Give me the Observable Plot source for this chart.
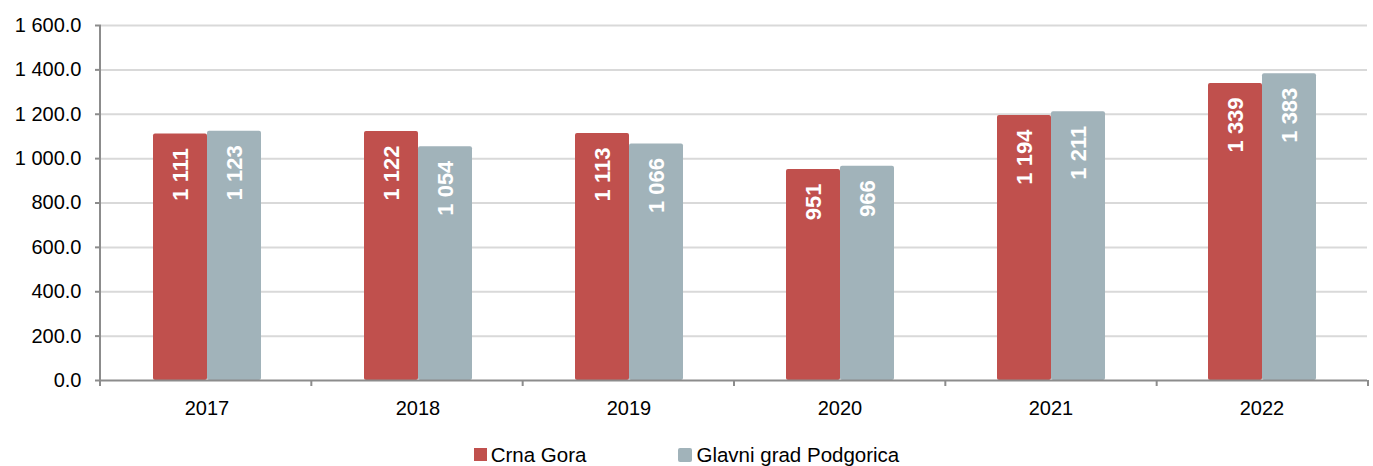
<!DOCTYPE html>
<html>
<head>
<meta charset="utf-8">
<script src="https://cdn.jsdelivr.net/npm/d3@7"></script>
<script src="https://cdn.jsdelivr.net/npm/@observablehq/plot@0.6"></script>
<style>
  html, body { margin: 0; padding: 0; background: #fff; }
  body { width: 1373px; height: 466px; overflow: hidden; font-family: "Liberation Sans", Arial, sans-serif; }
  #legend { display: flex; justify-content: center; align-items: center; height: 36px; padding-top: 13px; box-sizing: border-box; font-size: 20.5px; color: #000; }
  .item { display: flex; align-items: center; }
  .sw { display: inline-block; width: 13px; height: 13px; margin-right: 4px; }
</style>
</head>
<body>
<div id="chart"></div>
<div id="legend"></div>
<script>
const years = ["2017", "2018", "2019", "2020", "2021", "2022"];
const series = ["Crna Gora", "Glavni grad Podgorica"];
const crnaGora = [1111, 1122, 1113, 951, 1194, 1339];
const podgorica = [1123, 1054, 1066, 966, 1211, 1383];
const yTicks = [0, 200, 400, 600, 800, 1000, 1200, 1400, 1600];
const colors = ["#c0504d", "#a1b3ba"];

const locale = d3.formatLocale({decimal: ".", thousands: "\u00a0", grouping: [3], currency: ["", ""]});
const fmtTick = locale.format(",.1f");
const fmtVal = locale.format(",d");

const data = [];
years.forEach((y, i) => {
  data.push({year: y, series: series[0], value: crnaGora[i]});
  data.push({year: y, series: series[1], value: podgorica[i]});
});

const W = 1373, H = 430, ML = 100, MR = 5, MT = 25, MB = 50;

const chart = Plot.plot({
  width: W,
  height: H,
  marginLeft: ML,
  marginRight: MR,
  marginTop: MT,
  marginBottom: MB,
  style: {fontFamily: "Liberation Sans, Arial, sans-serif", fontSize: "20px", color: "#000", background: "#fff"},
  fx: {domain: years, padding: 0, axis: "bottom", tickSize: 0, tickPadding: 20, label: null},
  x: {domain: series, paddingInner: 0, paddingOuter: 0.92, axis: null},
  y: {domain: [0, 1600], ticks: yTicks, tickFormat: fmtTick, tickSize: 6, tickPadding: 14, label: null},
  color: {domain: series, range: colors},
  marks: [
    Plot.gridY(yTicks.filter(d => d > 0), {stroke: "#d9d9d9", strokeOpacity: 1, strokeWidth: 2}),
    Plot.barY(data, {fx: "year", x: "series", y: "value", fill: "series", rx: 2}),
    Plot.ruleY([0], {stroke: "#8c8c8c", strokeWidth: 2}),
    Plot.text(data, {
      fx: "year", x: "series", y: "value", text: d => fmtVal(d.value),
      rotate: -90, textAnchor: "end", lineAnchor: "middle", dy: 14,
      fill: "#fff", fontWeight: "bold", fontSize: 22
    })
  ]
});

const svg = d3.select(chart);
svg.selectAll("[aria-label='y-axis tick'] path, [aria-label='y-axis tick'] line").attr("stroke", "#8c8c8c").attr("stroke-width", 2);
const g = svg.append("g").attr("stroke", "#8c8c8c").attr("stroke-width", 2);
const x0 = ML, x1 = W - MR, step = (x1 - x0) / years.length, yb = H - MB;
g.append("line").attr("x1", x0).attr("x2", x0).attr("y1", MT).attr("y2", yb + 6);
for (let i = 0; i <= years.length; i++) {
  const xx = x0 + i * step;
  g.append("line").attr("x1", xx).attr("x2", xx).attr("y1", yb).attr("y2", yb + 6);
}

document.getElementById("chart").appendChild(chart);

const legend = document.getElementById("legend");
series.forEach((s, i) => {
  const item = document.createElement("div");
  item.className = "item";
  if (i > 0) item.style.marginLeft = "92px";
  const sw = document.createElement("span");
  sw.className = "sw";
  sw.style.background = colors[i];
  if (i > 0) { sw.style.borderRadius = "2px"; sw.style.width = "14px"; sw.style.height = "14px"; }
  item.appendChild(sw);
  item.appendChild(document.createTextNode(s));
  legend.appendChild(item);
});
</script>
</body>
</html>
